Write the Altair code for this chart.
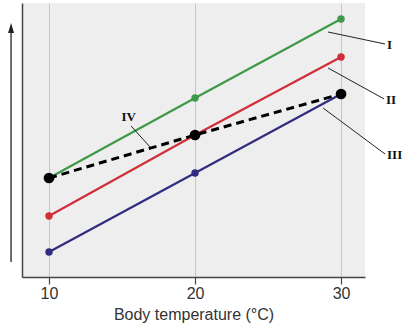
import altair as alt
import pandas as pd

# ---- data ----
temps = [10, 20, 30]
series_I = [99, 179, 258]     # green
series_II = [61, 142, 220]    # red
series_III = [25, 104, 183]   # blue
series_IV = [99, 142, 183]    # black dashed
series_names = ["I", "II", "III"]
series_colors = ["#3e9a48", "#d02f3a", "#302d80"]

# annotation leader lines (data coords) and labels
lead_x = [29.11, 29.11, 28.77, 15.62]
lead_y = [245, 209, 169, 151]
lead_x2 = [33.01, 32.95, 33.01, 16.92]
lead_y2 = [233, 178, 123, 130]
lab_text = ["I", "II", "III"]
lab_x = [33.15, 33.08, 33.15]
lab_y = [232, 177, 122]
lab4_text = ["IV"]
lab4_x = [15.45]
lab4_y = [160]

# y-axis arrow
arrow_x = [7.4]
arrow_y = [15]
arrow_y2 = [244]
arrow_head_y = [249]

rows = []
for name, vals in zip(series_names, [series_I, series_II, series_III]):
    for t, v in zip(temps, vals):
        rows.append({"series": name, "temp": t, "value": v})
df = pd.DataFrame(rows)
df4 = pd.DataFrame({"temp": temps, "value": series_IV})
lead_df = pd.DataFrame({"x": lead_x, "y": lead_y, "x2": lead_x2, "y2": lead_y2})
lab_df = pd.DataFrame({"t": lab_text, "x": lab_x, "y": lab_y})
lab4_df = pd.DataFrame({"t": lab4_text, "x": lab4_x, "y": lab4_y})
arrow_df = pd.DataFrame({"x": arrow_x, "y": arrow_y, "y2": arrow_y2, "hy": arrow_head_y})

xs = alt.Scale(domain=[8.15, 31.64], nice=False, zero=False)
ys = alt.Scale(domain=[0, 274], nice=False, zero=False)
cs = alt.Scale(domain=series_names, range=series_colors)

X = alt.X("temp:Q", scale=xs,
          axis=alt.Axis(values=temps, title="Body temperature (°C)", grid=True))
Y = alt.Y("value:Q", scale=ys, axis=alt.Axis(title=None, labels=False, ticks=False,
                                             grid=False, domain=True))

lines = alt.Chart(df).mark_line(strokeWidth=2.2).encode(
    x=X, y=Y, color=alt.Color("series:N", scale=cs, legend=None), detail="series:N")
pts = alt.Chart(df).mark_circle(size=55, opacity=1).encode(
    x=X, y=Y, color=alt.Color("series:N", scale=cs, legend=None))
dash = alt.Chart(df4).mark_line(strokeWidth=3, strokeDash=[8, 5], color="black").encode(
    x=X, y=Y)
bpts = alt.Chart(df4).mark_circle(size=115, opacity=1, color="black").encode(x=X, y=Y)

leads = alt.Chart(lead_df).mark_rule(color="#222", strokeWidth=1).encode(
    x=alt.X("x:Q", scale=xs), y=alt.Y("y:Q", scale=ys),
    x2="x2:Q", y2="y2:Q")
labs = alt.Chart(lab_df).mark_text(font="Liberation Serif", fontWeight="bold",
                                   fontSize=13, align="left", baseline="middle",
                                   color="#111").encode(
    x=alt.X("x:Q", scale=xs), y=alt.Y("y:Q", scale=ys), text="t:N")
labs4 = alt.Chart(lab4_df).mark_text(font="Liberation Serif", fontWeight="bold",
                                     fontSize=13, align="center", baseline="middle",
                                     color="#111").encode(
    x=alt.X("x:Q", scale=xs), y=alt.Y("y:Q", scale=ys), text="t:N")

arrow = alt.Chart(arrow_df).mark_rule(color="#222", strokeWidth=1.3).encode(
    x=alt.X("x:Q", scale=xs), y=alt.Y("y:Q", scale=ys), y2="y2:Q")
head = alt.Chart(arrow_df).mark_point(shape="M0,-1L0.6,1L-0.6,1Z", size=100,
                                      filled=True, opacity=1, color="#222").encode(
    x=alt.X("x:Q", scale=xs), y=alt.Y("hy:Q", scale=ys))

chart = alt.layer(lines, dash, pts, bpts, leads, labs, labs4, arrow, head).properties(
    width=343, height=274,
    autosize=alt.AutoSizeParams(type="none"),
    padding={"left": 22, "top": 3, "right": 43, "bottom": 52},
    background="white",
).configure_view(fill="#eeeeee", stroke=None).configure_axisX(
    gridColor="#c6c6c6", gridWidth=1, tickColor="#444", tickSize=7, tickWidth=1.2,
    domainColor="#444", domainWidth=1.5, labelFont="Liberation Sans", labelFontSize=16,
    labelColor="#333", labelPadding=1, titleFont="Liberation Sans", titleFontSize=16,
    titleFontWeight="normal", titleColor="#333", titlePadding=5
).configure_axisY(domainColor="#444", domainWidth=1.5)

chart.save("out.html", embed_options={"renderer": "svg", "actions": False})
